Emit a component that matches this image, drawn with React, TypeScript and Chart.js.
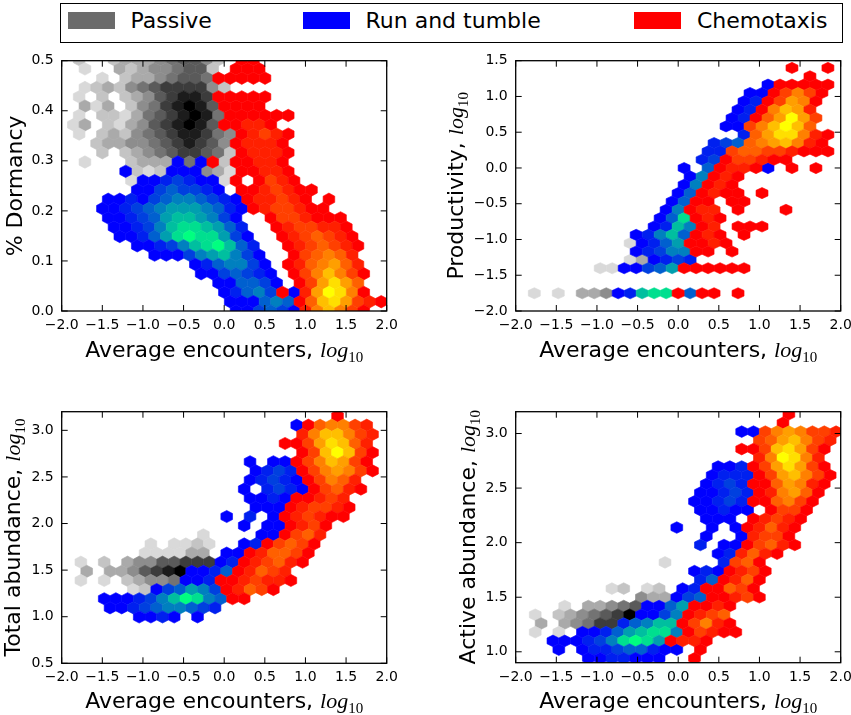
import React, { useEffect, useRef } from "react";
import { Chart, registerables } from "chart.js";

Chart.register(...registerables);

const FONT = '"DejaVu Sans", "Noto Sans", sans-serif';
const MATH_FONT = '"Liberation Serif", "DejaVu Serif", serif';

// ---------- data ----------
const SERIES_NAMES = ["Passive", "Run and tumble", "Chemotaxis"];
const LEGEND_COLORS = ["#6b6b6b", "#0000ff", "#ff0000"];

const X_TICKS = [-2, -1.5, -1, -0.5, 0, 0.5, 1, 1.5, 2];
const DORMANCY_TICKS = [0, 0.1, 0.2, 0.3, 0.4, 0.5];
const PRODUCTIVITY_TICKS = [-2, -1.5, -1, -0.5, 0, 0.5, 1, 1.5];
const TOTAL_TICKS = [0.5, 1, 1.5, 2, 2.5, 3];
const ACTIVE_TICKS = [1, 1.5, 2, 2.5, 3];

// Hexbin counts. Row format "row:firstColumn:cells".
// Cells: '.' empty, a-i Passive (light..dark), A-I Run and tumble (blue..green),
// 1-9 Chemotaxis (red..yellow).
const DORMANCY_BINS = [
  "27:1:b..bcccdeffdb.11",
  "26:2:a..cbcddeffb.111",
  "25:3:a.bccdeffe11111",
  "24:2:abcbdefggggdb",
  "23:1:a.b.bcdfghhg11111",
  "22:2:cac.bdeghihf1111",
  "21:1:a.bbacefghihe111111",
  "20:1:ac.bacdfghihf11221",
  "19:1:a.bcbdefghhged12321",
  "18:3:bccddefghgfd12221",
  "17:3:b.bcdefggfeb12221",
  "16:2:a...bcccAeA1b11221",
  "15:5:AbabAAAdca11221",
  "14:6:aAABCBAAa1.1321",
  "13:6:AACDCCBA.1123211",
  "12:4:AABACDEEDCBA122321.1",
  "11:3:AABCDEFFFEDBA1233211",
  "10:4:AABCDFGGFECA..1332111",
  "9:4:AABCEGHHGFDB..1233221",
  "8:5:AABDFHIHHFCA..1234321",
  "7:6:AABCEGHIGDB..1234321",
  "6:8:AAACEFGECA..134542",
  "5:11:ABDEECA.1245642",
  "4:12:AACDCBA.1357531",
  "3:13:AADDCA.136864",
  "2:14:ABDEC1A269851",
  "1:14:AAADED14786321",
  "0:15:AACDCA257531",
];

const PRODUCTIVITY_BINS = [
  "27:21:1..1",
  "26:23:1",
  "25:19:A11111",
  "24:18:AA13531",
  "23:17:AB13651",
  "22:17:AB15762",
  "21:16:AB146963",
  "20:16:AA357974",
  "19:17:B4688521",
  "18:15:BCD4567521",
  "17:14:BB344332111",
  "16:14:BC133211",
  "15:12:A.D1221A.1.1",
  "14:13:AE121",
  "13:12:AE121",
  "12:12:AD1211.1",
  "11:11:AD11.11",
  "10:11:AE122.1...1",
  "9:10:ADH121",
  "8:10:ABGE12.111",
  "7:8:ABEGD121.1",
  "6:8:aABDF1121",
  "5:8:ABCEE11.1",
  "4:8:acABCB",
  "3:5:aaAACDF111111",
  "0:0:a.a.ccdABGHH1D11.1",
];

const TOTAL_BINS = [
  "27:23:1",
  "26:20:A145532",
  "25:20:2577532",
  "24:19:11368742",
  "23:20:1379731",
  "22:16:A.AA1357631",
  "21:16:ABCB1356531",
  "20:16:ABCBA13542",
  "19:15:A.BCBA13421",
  "18:16:AABA11232",
  "17:16:AAA123321",
  "16:14:A.B.A123211",
  "15:15:A.AA1231",
  "14:12:a....AA1342",
  "13:7:a.aaba..AB13431",
  "12:7:aaaacc.AA124431",
  "11:1:a.b.cddffgggAB123421",
  "10:2:c.ccdfghiAABD12432",
  "9:1:a.a.bcddeAAB1123221",
  "8:6:abACDFEC12431",
  "7:3:AAABCEGIHED11",
  "6:4:AABCDEEDCB",
  "5:6:AABA.A",
];

const ACTIVE_BINS = [
  "28:23:1",
  "27:22:1",
  "26:19:AA3565332",
  "25:20:3467532",
  "24:19:11378631",
  "23:20:259852",
  "22:17:AAB1368631",
  "21:16:ABBB1367531",
  "20:16:ABCB1146521",
  "19:15:AABCB125641",
  "18:15:AABCB114531",
  "17:15:AABAA.1331",
  "16:16:AAA.12321",
  "15:13:A..A.A12421",
  "14:16:A..A2331",
  "13:15:B.AA13421",
  "12:17:AB2421",
  "11:12:a....B341",
  "10:15:ABA1231",
  "9:15:BD1241",
  "8:8:ab.ab.AB11431",
  "7:10:dccACD11231",
  "6:4:a.ccdefAADF1121",
  "5:1:a.bcdefgiAACE1234",
  "4:2:c.cdeggBDEGG13521",
  "3:1:a.a.AABDFGHHE13211",
  "2:3:AAABCEHIHF1221",
  "1:3:A.ABBCDDBAA.1",
  "0:6:AABBAAA..1",
];

// ---------- hex lattices (bin geometry, data units) ----------
type Lattice = { x0: number; dx: number; y0: number; dy: number };
const DORMANCY_LATTICE: Lattice = { x0: -2.0, dx: 0.143, y0: 0, dy: 0.0186 };
const PRODUCTIVITY_LATTICE: Lattice = { x0: -1.771, dx: 0.1475, y0: -1.752, dy: 0.1167 };
const TOTAL_LATTICE: Lattice = { x0: -1.9795, dx: 0.1436, y0: 0.507, dy: 0.098 };
const ACTIVE_LATTICE: Lattice = { x0: -1.9774, dx: 0.1452, y0: 0.94, dy: 0.0799 };

// ---------- colour maps ----------
const GREYS = ["#ffffff", "#f0f0f0", "#d9d9d9", "#bdbdbd", "#969696", "#737373", "#525252", "#252525", "#000000"];
function hexToRgb(h: string) {
  return [parseInt(h.slice(1, 3), 16), parseInt(h.slice(3, 5), 16), parseInt(h.slice(5, 7), 16)];
}
function greys(t: number) {
  const p = Math.max(0, Math.min(1, t)) * 8;
  const i = Math.min(7, Math.floor(p));
  const f = p - i;
  const a = hexToRgb(GREYS[i]);
  const b = hexToRgb(GREYS[i + 1]);
  const c = a.map((v, j) => Math.round(v + (b[j] - v) * f));
  return `rgb(${c[0]},${c[1]},${c[2]})`;
}
const winter = (t: number) => `rgb(0,${Math.round(255 * t)},${Math.round(255 * (1 - t / 2))})`;
const autumn = (t: number) => `rgb(255,${Math.round(255 * t)},0)`;

type Kind = "passive" | "run" | "chemo";
const SERIES: { kind: Kind; color: (l: number) => string }[] = [
  { kind: "passive", color: (l) => greys(0.25 + (0.75 * (l - 1)) / 8) },
  { kind: "run", color: (l) => winter((l - 1) / 8) },
  { kind: "chemo", color: (l) => autumn((l - 1) / 8) },
];

type Bin = { x: number; y: number; level: number };
function readBins(rows: string[], lat: Lattice, kind: Kind): Bin[] {
  const out: Bin[] = [];
  for (const row of rows) {
    const [k, s, cells] = row.split(":");
    const r = Number(k);
    const start = Number(s);
    for (let i = 0; i < cells.length; i++) {
      const ch = cells[i];
      let level = 0;
      if (kind === "passive" && ch >= "a" && ch <= "i") level = ch.charCodeAt(0) - 96;
      else if (kind === "run" && ch >= "A" && ch <= "I") level = ch.charCodeAt(0) - 64;
      else if (kind === "chemo" && ch >= "1" && ch <= "9") level = ch.charCodeAt(0) - 48;
      if (!level) continue;
      const col = start + i + (r % 2 === 1 ? 0.5 : 0);
      out.push({ x: lat.x0 + col * lat.dx, y: lat.y0 + r * lat.dy, level });
    }
  }
  return out;
}

const fmtTick = (v: number) => v.toFixed(1).replace("-", "\u2212");

type Part = { text: string; font: string; dy?: number };
const mathLabel = (prefix: string): Part[] => [
  { text: prefix, font: `22px ${FONT}` },
  { text: "log", font: `italic 22px ${MATH_FONT}` },
  { text: "10", font: `15px ${MATH_FONT}`, dy: 5 },
];

// ---------- plugins ----------
const hexbinPlugin = {
  id: "hexbin",
  afterDatasetsDraw(chart: any, _args: any, opts: any) {
    const xs = chart.scales.x;
    const ys = chart.scales.y;
    const hx = Math.abs(xs.getPixelForValue(opts.dx / 2) - xs.getPixelForValue(0));
    const hy = Math.abs(ys.getPixelForValue(0) - ys.getPixelForValue(opts.dy / 3));
    const { left, top, right, bottom } = chart.chartArea;
    const ctx = chart.ctx;
    ctx.save();
    ctx.beginPath();
    ctx.rect(left, top, right - left, bottom - top);
    ctx.clip();
    ctx.lineWidth = 0.6;
    ctx.lineJoin = "miter";
    chart.data.datasets.forEach((ds: any, di: number) => {
      const meta = chart.getDatasetMeta(di);
      meta.data.forEach((el: any, i: number) => {
        const cx = el.x;
        const cy = el.y;
        const col = ds.backgroundColor[i];
        ctx.beginPath();
        ctx.moveTo(cx, cy - 2 * hy);
        ctx.lineTo(cx + hx, cy - hy);
        ctx.lineTo(cx + hx, cy + hy);
        ctx.lineTo(cx, cy + 2 * hy);
        ctx.lineTo(cx - hx, cy + hy);
        ctx.lineTo(cx - hx, cy - hy);
        ctx.closePath();
        ctx.fillStyle = col;
        ctx.strokeStyle = col;
        ctx.fill();
        ctx.stroke();
      });
    });
    ctx.restore();
  },
};

function drawParts(ctx: CanvasRenderingContext2D, parts: Part[], cx: number, baseline: number) {
  let total = 0;
  for (const p of parts) {
    ctx.font = p.font;
    total += ctx.measureText(p.text).width;
  }
  let x = cx - total / 2;
  ctx.textAlign = "left";
  ctx.textBaseline = "alphabetic";
  for (const p of parts) {
    ctx.font = p.font;
    ctx.fillText(p.text, x, baseline + (p.dy || 0));
    x += ctx.measureText(p.text).width;
  }
}

const framePlugin = {
  id: "frame",
  afterDraw(chart: any, _args: any, opts: any) {
    const ctx: CanvasRenderingContext2D = chart.ctx;
    const { left, top, right, bottom } = chart.chartArea;
    const xs = chart.scales.x;
    const ys = chart.scales.y;
    ctx.save();
    ctx.strokeStyle = "#000";
    ctx.lineWidth = 1;
    ctx.beginPath();
    for (const t of xs.ticks) {
      const px = xs.getPixelForValue(t.value);
      ctx.moveTo(px, bottom);
      ctx.lineTo(px, bottom - 6);
      ctx.moveTo(px, top);
      ctx.lineTo(px, top + 6);
    }
    for (const t of ys.ticks) {
      const py = ys.getPixelForValue(t.value);
      ctx.moveTo(left, py);
      ctx.lineTo(left + 6, py);
      ctx.moveTo(right, py);
      ctx.lineTo(right - 6, py);
    }
    ctx.stroke();
    ctx.lineWidth = 1.3;
    ctx.strokeRect(left, top, right - left, bottom - top);

    ctx.fillStyle = "#000";
    drawParts(ctx, opts.xLabel, (left + right) / 2, bottom + opts.xGap);
    ctx.translate(left - opts.yGap, (top + bottom) / 2);
    ctx.rotate(-Math.PI / 2);
    drawParts(ctx, opts.yLabel, 0, 0);
    ctx.restore();
  },
};

// ---------- panels ----------
type PanelCfg = {
  left: number; top: number; width: number; height: number;
  yAxisWidth: number; xAxisHeight: number; padTop: number; padRight: number;
  yMin: number; yMax: number; yTicks: number[];
  bins: string[]; lattice: Lattice; yLabel: Part[]; yGap: number; xGap: number;
};

const X_LABEL = mathLabel("Average encounters, ");

const PANELS: PanelCfg[] = [
  {
    left: 0, top: 48, width: 425, height: 335, yAxisWidth: 61.7, xAxisHeight: 72, padTop: 12.7, padRight: 38.3,
    yMin: 0, yMax: 0.5, yTicks: DORMANCY_TICKS, bins: DORMANCY_BINS, lattice: DORMANCY_LATTICE,
    yLabel: [{ text: "% Dormancy", font: `22px ${FONT}` }], yGap: 40, xGap: 46,
  },
  {
    left: 425, top: 48, width: 426, height: 335, yAxisWidth: 90.7, xAxisHeight: 72, padTop: 12.7, padRight: 10.3,
    yMin: -2, yMax: 1.5, yTicks: PRODUCTIVITY_TICKS, bins: PRODUCTIVITY_BINS, lattice: PRODUCTIVITY_LATTICE,
    yLabel: mathLabel("Productivity, "), yGap: 52.4, xGap: 46,
  },
  {
    left: 0, top: 398, width: 425, height: 317, yAxisWidth: 61.7, xAxisHeight: 51.7, padTop: 13.7, padRight: 38.3,
    yMin: 0.5, yMax: 3.2, yTicks: TOTAL_TICKS, bins: TOTAL_BINS, lattice: TOTAL_LATTICE,
    yLabel: mathLabel("Total abundance, "), yGap: 41.7, xGap: 45,
  },
  {
    left: 425, top: 398, width: 426, height: 317, yAxisWidth: 90.7, xAxisHeight: 52.3, padTop: 13.7, padRight: 10.3,
    yMin: 0.9, yMax: 3.2, yTicks: ACTIVE_TICKS, bins: ACTIVE_BINS, lattice: ACTIVE_LATTICE,
    yLabel: mathLabel("Active abundance, "), yGap: 40.7, xGap: 45,
  },
];

function Panel({ cfg }: { cfg: PanelCfg }) {
  const ref = useRef<HTMLCanvasElement>(null);
  useEffect(() => {
    const canvas = ref.current;
    if (!canvas) return;
    const datasets = SERIES.map((s, i) => {
      const bins = readBins(cfg.bins, cfg.lattice, s.kind);
      return {
        label: SERIES_NAMES[i],
        data: bins.map((b) => ({ x: b.x, y: b.y })),
        backgroundColor: bins.map((b) => s.color(b.level)),
        borderColor: bins.map((b) => s.color(b.level)),
        pointRadius: 0,
        pointHoverRadius: 0,
        pointHitRadius: 0,
        showLine: false,
      };
    });
    const tickFont = { family: FONT, size: 14 };
    const chart = new Chart(canvas, {
      type: "scatter",
      data: { datasets },
      options: {
        animation: false,
        responsive: false,
        maintainAspectRatio: false,
        events: [],
        layout: { padding: { top: cfg.padTop, right: cfg.padRight, left: 0, bottom: 0 } },
        plugins: {
          legend: { display: false },
          tooltip: { enabled: false },
          hexbin: { dx: cfg.lattice.dx, dy: cfg.lattice.dy },
          frame: { xLabel: X_LABEL, yLabel: cfg.yLabel, xGap: cfg.xGap, yGap: cfg.yGap },
        } as any,
        scales: {
          x: {
            type: "linear",
            min: -2,
            max: 2,
            afterBuildTicks: (scale: any) => {
              scale.ticks = X_TICKS.map((value) => ({ value }));
            },
            afterFit: (scale: any) => {
              scale.height = cfg.xAxisHeight;
              scale.paddingLeft = 0;
              scale.paddingRight = 0;
            },
            grid: { display: false, drawTicks: false },
            border: { display: false },
            ticks: {
              font: tickFont,
              color: "#000",
              padding: 6,
              autoSkip: false,
              maxRotation: 0,
              minRotation: 0,
              callback: (v: any) => fmtTick(Number(v)),
            },
          },
          y: {
            type: "linear",
            min: cfg.yMin,
            max: cfg.yMax,
            afterBuildTicks: (scale: any) => {
              scale.ticks = cfg.yTicks.map((value) => ({ value }));
            },
            afterFit: (scale: any) => {
              scale.width = cfg.yAxisWidth;
              scale.paddingTop = 0;
              scale.paddingBottom = 0;
            },
            grid: { display: false, drawTicks: false },
            border: { display: false },
            ticks: {
              font: tickFont,
              color: "#000",
              padding: 8,
              autoSkip: false,
              callback: (v: any) => fmtTick(Number(v)),
            },
          },
        },
      } as any,
      plugins: [hexbinPlugin, framePlugin],
    });
    return () => chart.destroy();
  }, [cfg]);
  return (
    <canvas
      ref={ref}
      width={cfg.width}
      height={cfg.height}
      style={{ position: "absolute", left: cfg.left, top: cfg.top, width: cfg.width, height: cfg.height }}
    />
  );
}

const LEGEND_ITEMS = [
  { swatch: 68, text: 131 },
  { swatch: 303, text: 366 },
  { swatch: 634, text: 697.5 },
];

function Legend() {
  const boxLeft = 59.5;
  const boxTop = 2.5;
  const b = 1.5;
  return (
    <div
      style={{
        position: "absolute",
        left: boxLeft,
        top: boxTop,
        width: 783,
        height: 40.5,
        border: `${b}px solid #000`,
        boxSizing: "border-box",
        background: "#fff",
      }}
    >
      {SERIES_NAMES.map((name, i) => (
        <React.Fragment key={name}>
          <div
            style={{
              position: "absolute",
              left: LEGEND_ITEMS[i].swatch - boxLeft - b,
              top: 12.7 - boxTop - b,
              width: 47,
              height: 17.3,
              background: LEGEND_COLORS[i],
            }}
          />
          <div
            style={{
              position: "absolute",
              left: LEGEND_ITEMS[i].text - boxLeft - b,
              top: 10.9 - boxTop - b,
              fontFamily: FONT,
              fontSize: 22,
              lineHeight: "22px",
              whiteSpace: "nowrap",
              color: "#000",
            }}
          >
            {name}
          </div>
        </React.Fragment>
      ))}
    </div>
  );
}

export default function App() {
  return (
    <div style={{ position: "absolute", left: 0, top: 0, width: 851, height: 715, background: "#fff", overflow: "hidden" }}>
      <Legend />
      {PANELS.map((p, i) => (
        <Panel key={i} cfg={p} />
      ))}
    </div>
  );
}
